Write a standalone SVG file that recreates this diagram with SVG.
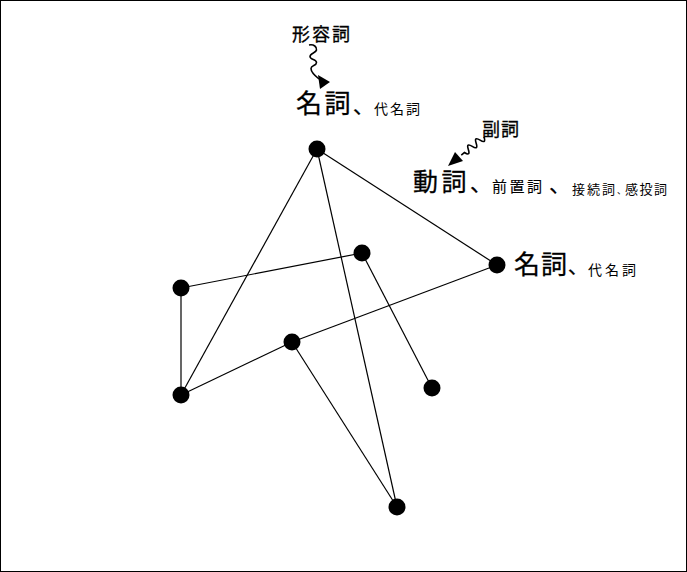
<svg xmlns="http://www.w3.org/2000/svg" width="687" height="572" viewBox="0 0 687 572">
<style>
.edge{stroke:#000;stroke-width:1.2;fill:none}
.node{fill:#000}
.wave{stroke:#000;stroke-width:1.6;fill:none}
.ah{fill:#000}
text{font-family:"Noto Sans CJK JP","Noto Sans CJK SC",sans-serif;fill:#000;font-weight:400}
.big{stroke:#000;stroke-width:0.3}
.sm{stroke:none}
</style>
<rect x="0.5" y="0.5" width="686" height="571" fill="#fff" stroke="#000" stroke-width="1"/>
<g id="connectors">
<line class="edge" x1="317" y1="149" x2="497" y2="265"/>
<line class="edge" x1="317" y1="149" x2="181" y2="395"/>
<line class="edge" x1="317" y1="149" x2="397" y2="507"/>
<line class="edge" x1="362" y1="253" x2="181" y2="288"/>
<line class="edge" x1="362" y1="253" x2="432" y2="388"/>
<line class="edge" x1="181" y1="288" x2="181" y2="395"/>
<line class="edge" x1="181" y1="395" x2="292" y2="342"/>
<line class="edge" x1="292" y1="342" x2="497" y2="265"/>
<line class="edge" x1="292" y1="342" x2="397" y2="507"/>
</g>
<g id="nodes">
<circle id="n1" class="node" cx="317" cy="149" r="8.5"/>
<circle id="n2" class="node" cx="497" cy="265" r="8.5"/>
<circle id="n3" class="node" cx="362" cy="253" r="8.5"/>
<circle id="n4" class="node" cx="181" cy="288" r="8.5"/>
<circle id="n5" class="node" cx="181" cy="395" r="8.5"/>
<circle id="n6" class="node" cx="292" cy="342" r="8.5"/>
<circle id="n7" class="node" cx="432" cy="388" r="8.5"/>
<circle id="n8" class="node" cx="397" cy="507" r="8.5"/>
</g>
<g id="arrow-adjective">
<path class="wave" d="M309,45 C314,44 317,47 316.5,50 C316,53 310,53 310,56.5 C310,60 316.5,59 316.5,62.5 C316.5,66 311,65 311,68.5 C311,72 314,75 319,79"/>
<polygon class="ah" points="318,75 330,82 320,89"/>
</g>
<g id="arrow-adverb">
<path class="wave" transform="translate(484,137) rotate(141.6)" d="M0,0 q2.5,-7 5,0 t5,0 t5,0 t5,0 t5,0 l4,0"/>
<polygon class="ah" points="448,166 455,152 463,161"/>
</g>
<g id="labels">
<text x="292" y="41" font-size="18" letter-spacing="2" class="big" stroke-width="0.1">形容詞</text>
<text x="296" y="113" font-size="26" letter-spacing="2.5" class="big">名詞<tspan font-size="21" letter-spacing="0">、</tspan><tspan class="sm" x="374" y="114" font-size="14" letter-spacing="2">代名詞</tspan></text>
<text x="482" y="136" font-size="18" letter-spacing="1" class="big" stroke-width="0.1">副詞</text>
<text x="413" y="191" font-size="25" letter-spacing="3.5" class="big">動詞<tspan font-size="22" letter-spacing="0">、</tspan><tspan x="492" y="192" font-size="15" letter-spacing="2.5" stroke-width="0.1">前置詞</tspan><tspan x="549" font-size="22" letter-spacing="0" stroke-width="0.1">、</tspan><tspan class="sm" x="572" y="194" font-size="13" letter-spacing="2">接続詞</tspan><tspan class="sm" font-size="9" letter-spacing="0">、</tspan><tspan class="sm" x="625" font-size="13" letter-spacing="1.5">感投詞</tspan></text>
<text x="514" y="274" font-size="26" letter-spacing="1" class="big">名詞<tspan font-size="20" letter-spacing="0">、</tspan><tspan class="sm" x="588" y="275" font-size="14" letter-spacing="3">代名詞</tspan></text>
</g>
</svg>
